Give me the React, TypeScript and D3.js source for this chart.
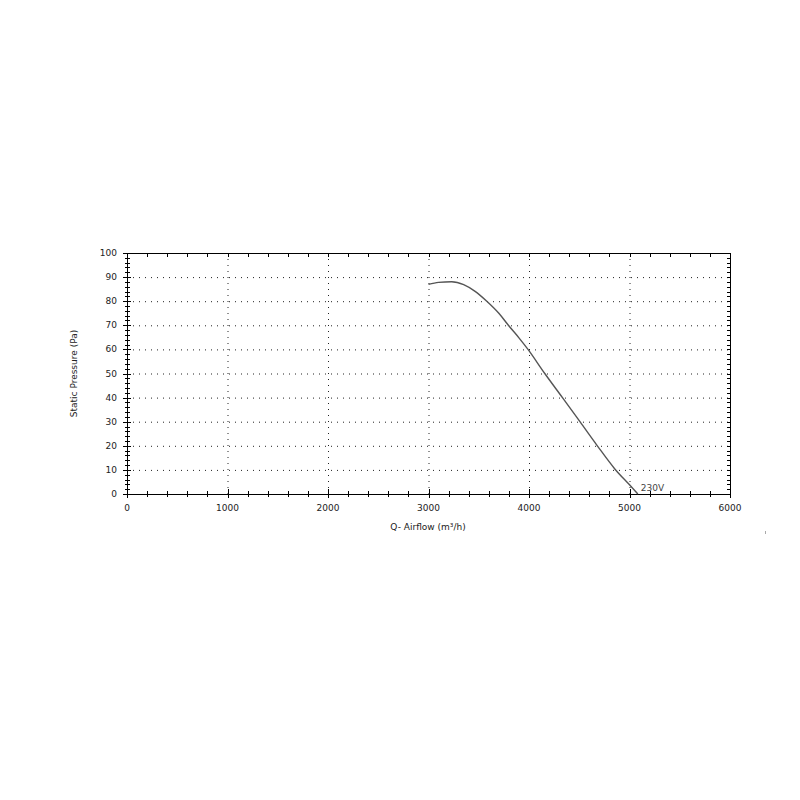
import React, { useEffect, useRef } from "react";
import * as d3 from "d3";

// fan curve
const airflow = [3000, 3100, 3230, 3350, 3460, 3580, 3700, 3795, 3900, 3990, 4157, 4333, 4507, 4680, 4856, 5000, 5083];
const pressure = [87, 87.8, 88.1, 86.9, 84.2, 80, 75, 70, 64.8, 60, 50, 40, 30, 20, 10.3, 3.8, 0];
const xTicks = [0, 1000, 2000, 3000, 4000, 5000, 6000];
const yTicks = [0, 10, 20, 30, 40, 50, 60, 70, 80, 90, 100];
const curveLabel = "230V";

const App = () => {
  const svgRef = useRef<SVGSVGElement>(null);

  useEffect(() => {
    const svg = d3.select(svgRef.current);
    svg.selectAll("*").remove();

    const left = 127, right = 730, top = 253, bottom = 494;
    const x = d3.scaleLinear().domain([0, 6000]).range([left, right]);
    const y = d3.scaleLinear().domain([0, 100]).range([bottom, top]);
    const font = "Tahoma, 'DejaVu Sans', sans-serif";

    const g = svg.append("g");

    // dotted grid
    g.selectAll(".gy")
      .data(yTicks.slice(1, -1))
      .enter()
      .append("line")
      .attr("x1", left).attr("x2", right)
      .attr("y1", d => y(d) + 0.5).attr("y2", d => y(d) + 0.5)
      .attr("stroke", "#222")
      .attr("stroke-dasharray", "1,5");
    g.selectAll(".gx")
      .data(xTicks.slice(1, -1))
      .enter()
      .append("line")
      .attr("x1", d => x(d) + 0.5).attr("x2", d => x(d) + 0.5)
      .attr("y1", top).attr("y2", bottom)
      .attr("stroke", "#222")
      .attr("stroke-dasharray", "1,5");

    // frame
    const frame = "#000";
    g.append("line").attr("x1", left).attr("x2", right).attr("y1", bottom + 0.5).attr("y2", bottom + 0.5).attr("stroke", frame);
    g.append("line").attr("x1", left).attr("x2", right).attr("y1", top + 0.5).attr("y2", top + 0.5).attr("stroke", frame);
    g.append("line").attr("x1", left + 0.5).attr("x2", left + 0.5).attr("y1", top).attr("y2", bottom).attr("stroke", frame);
    g.append("line").attr("x1", right + 0.5).attr("x2", right + 0.5).attr("y1", top).attr("y2", bottom).attr("stroke", frame);

    // minor / major ticks
    const xMinor = d3.range(0, 6001, 200);
    const yMinor = d3.range(0, 101, 2);
    xMinor.forEach(v => {
      const major = v % 1000 === 0;
      const px = Math.round(x(v)) + 0.5;
      g.append("line").attr("x1", px).attr("x2", px)
        .attr("y1", bottom - (major ? 5 : 3)).attr("y2", bottom + (major ? 4 : 3))
        .attr("stroke", frame);
      g.append("line").attr("x1", px).attr("x2", px)
        .attr("y1", top).attr("y2", top + 4)
        .attr("stroke", frame);
    });
    yMinor.forEach(v => {
      const major = v % 10 === 0;
      const py = Math.round(y(v)) + 0.5;
      g.append("line").attr("x1", left - (major ? 4 : 2)).attr("x2", left + (major ? 4 : 3))
        .attr("y1", py).attr("y2", py)
        .attr("stroke", frame);
      g.append("line").attr("x1", right - 3).attr("x2", right)
        .attr("y1", py).attr("y2", py)
        .attr("stroke", frame);
    });

    // tick labels
    g.selectAll(".xl")
      .data(xTicks)
      .enter()
      .append("text")
      .attr("x", d => x(d))
      .attr("y", bottom + 17)
      .attr("text-anchor", "middle")
      .style("font-family", font)
      .style("font-size", "9px")
      .attr("fill", "#222")
      .text(d => d);
    g.selectAll(".yl")
      .data(yTicks)
      .enter()
      .append("text")
      .attr("x", left - 10)
      .attr("y", d => y(d) + 3)
      .attr("text-anchor", "end")
      .style("font-family", font)
      .style("font-size", "9px")
      .attr("fill", "#222")
      .text(d => d);

    // axis titles
    g.append("text")
      .attr("x", 428).attr("y", 530)
      .attr("text-anchor", "middle")
      .style("font-family", font)
      .style("font-size", "9px")
      .attr("fill", "#222")
      .text("Q- Airflow (m³/h)");
    g.append("text")
      .attr("transform", `translate(77, ${(top + bottom) / 2}) rotate(-90)`)
      .attr("text-anchor", "middle")
      .style("font-family", font)
      .style("font-size", "9px")
      .attr("fill", "#222")
      .text("Static Pressure (Pa)");

    // curve
    const pts = airflow.map((a, i) => [a, pressure[i]] as [number, number]);
    const line = d3.line<[number, number]>()
      .x(d => x(d[0]))
      .y(d => y(d[1]))
      .curve(d3.curveMonotoneX);
    g.append("path")
      .attr("d", line(pts))
      .attr("fill", "none")
      .attr("stroke", "#555")
      .attr("stroke-width", 1.4);

    const last = pts[pts.length - 1];
    g.append("text")
      .attr("x", x(last[0]) + 3)
      .attr("y", y(last[1]) - 3)
      .style("font-family", font)
      .style("font-size", "9px")
      .attr("fill", "#444")
      .text(curveLabel);

    // stray mark at right edge
    g.append("rect").attr("x", 765).attr("y", 531).attr("width", 1).attr("height", 3).attr("fill", "#aaa");
  }, []);

  return (
    <div style={{ width: 800, height: 800, position: "absolute", left: 0, top: 0, background: "#fff" }}>
      <svg ref={svgRef} width={800} height={800}></svg>
    </div>
  );
};

export default App;
